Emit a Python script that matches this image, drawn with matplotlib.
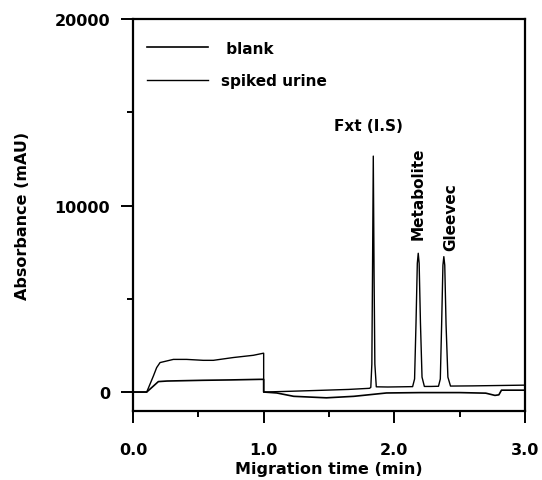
import numpy as np
import matplotlib
matplotlib.use('Agg')
import matplotlib.pyplot as plt
from matplotlib.ticker import MultipleLocator

# spiked urine trace (time in min, absorbance in mAU)
spiked_t = [0.0, 0.105, 0.156, 0.181, 0.207, 0.309, 0.41, 0.538, 0.615, 0.768, 0.921, 0.997, 1.0,
            1.0, 1.2, 1.43, 1.65, 1.81,
            1.820, 1.828, 1.833, 1.839, 1.845, 1.851, 1.862,
            1.95, 2.05, 2.140, 2.155, 2.166, 2.176, 2.183, 2.190, 2.200, 2.212, 2.230,
            2.28, 2.338, 2.352, 2.362, 2.372, 2.379, 2.386, 2.396, 2.410, 2.430,
            2.6, 2.8, 3.0]
spiked_v = [0, 0, 860, 1310, 1580, 1750, 1750, 1700, 1700, 1850, 1970, 2080, 2080,
            0, 40, 90, 140, 200,
            250, 1500, 6300, 12650, 6300, 1500, 280,
            270, 280, 290, 700, 3700, 6900, 7440, 6900, 3700, 800, 300,
            300, 310, 700, 3600, 6800, 7260, 6800, 3600, 800, 320,
            330, 350, 370]

# blank trace
blank_t = [0.0, 0.105, 0.156, 0.194, 0.26, 0.538, 0.75, 0.97, 1.0,
           1.0, 1.10, 1.23, 1.48, 1.69, 1.94, 2.2, 2.5, 2.7, 2.77, 2.80, 2.82, 3.0]
blank_v = [0, 0, 320, 560, 590, 630, 650, 680, 680,
           0, -50, -230, -310, -230, -50, -30, -30, -60, -180, -150, 100, 100]

peak_names = ['Fxt (I.S)', 'Metabolite', 'Gleevec']
peak_label_t = [1.80, 2.18, 2.43]
peak_label_v = [14300, 10700, 9440]
peak_rot = [0, 90, 90]

plt.rcParams['font.family'] = 'DejaVu Sans'
plt.rcParams['font.weight'] = 'bold'

fig = plt.figure(figsize=(5.42, 4.81), dpi=100)
ax = fig.add_axes([0.2454, 0.1441, 0.7232, 0.8143])

ax.plot(blank_t, blank_v, color='black', lw=1.2, label=' blank')
ax.plot(spiked_t, spiked_v, color='black', lw=1.0, label='spiked urine')

for name, t, v, r in zip(peak_names, peak_label_t, peak_label_v, peak_rot):
    ax.text(t, v, name, rotation=r, ha='center', va='center', fontsize=11, fontweight='bold')

ax.set_xlim(0, 3)
ax.set_ylim(-1000, 20000)
ax.xaxis.set_major_locator(MultipleLocator(1))
ax.xaxis.set_minor_locator(MultipleLocator(0.5))
ax.yaxis.set_major_locator(MultipleLocator(10000))
ax.yaxis.set_minor_locator(MultipleLocator(5000))
ax.xaxis.set_major_formatter(plt.FuncFormatter(lambda x, p: '%.1f' % x))
ax.tick_params(which='major', direction='out', length=8.6, width=1.4, labelsize=11.5)
ax.tick_params(which='minor', direction='out', length=4.3, width=1.4)
ax.tick_params(axis='x', which='major', pad=14)
ax.tick_params(axis='y', which='major', pad=8)
for sp in ax.spines.values():
    sp.set_linewidth(1.6)

ax.set_xlabel('Migration time (min)', fontsize=11.5, fontweight='bold')
ax.set_ylabel('Absorbance (mAU)', fontsize=11.5, fontweight='bold')
ax.xaxis.set_label_coords(0.5, -0.128)
ax.yaxis.set_label_coords(-0.263, 0.5)

ax.legend(loc='upper left', bbox_to_anchor=(0.035, 0.945), frameon=False, fontsize=11,
          handlelength=4, handletextpad=0.85, labelspacing=1.15, borderpad=0, borderaxespad=0)

plt.savefig('out.png', dpi=100)
